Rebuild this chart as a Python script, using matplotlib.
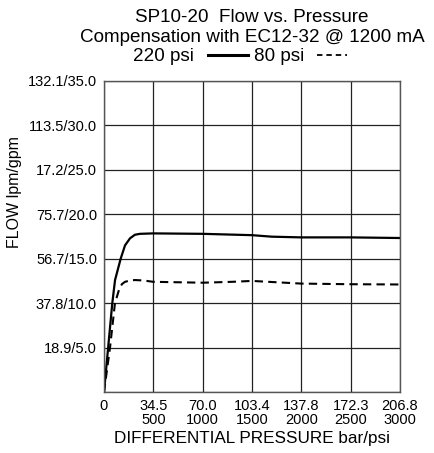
import matplotlib.pyplot as plt
from matplotlib.lines import Line2D

plt.rcParams["font.family"] = ["Liberation Sans", "DejaVu Sans"]

# Data (psi, gpm)
psi_220 = [0, 42, 84, 112, 169, 213, 264, 314, 365, 500, 1000, 1500, 1700, 2000, 2500, 3000]
gpm_220 = [0, 5.0, 10.0, 12.6, 15.0, 16.5, 17.3, 17.7, 17.8, 17.85, 17.8, 17.65, 17.48, 17.4, 17.4, 17.33]

psi_80 = [0, 61, 111, 152, 182, 213, 264, 314, 400, 500, 1000, 1300, 1500, 2000, 2500, 3000]
gpm_80 = [0, 5.0, 10.0, 11.5, 12.15, 12.4, 12.55, 12.6, 12.55, 12.4, 12.3, 12.4, 12.5, 12.2, 12.13, 12.1]

x_ticks = [0, 500, 1000, 1500, 2000, 2500, 3000]
x_labels = ["0", "34.5\n500", "70.0\n1000", "103.4\n1500", "137.8\n2000", "172.3\n2500", "206.8\n3000"]
y_ticks = [0, 5, 10, 15, 20, 25, 30, 35]
y_labels = ["", "18.9/5.0", "37.8/10.0", "56.7/15.0", "75.7/20.0", "17.2/25.0", "113.5/30.0", "132.1/35.0"]


fig = plt.figure(figsize=(4.34, 4.53), dpi=100)
ax = fig.add_axes([104 / 434, 61 / 453, 296 / 434, 311 / 453])

ax.plot(psi_220, gpm_220, color="black", lw=1.6, solid_capstyle="butt")
ax.plot(psi_80, gpm_80, color="black", lw=1.5, dashes=(4, 2.5))

ax.set_xlim(0, 3000)
ax.set_ylim(0, 35)
ax.set_xticks(x_ticks)
ax.set_xticklabels(x_labels, fontsize=10.5)
ax.set_yticks(y_ticks)
ax.set_yticklabels(y_labels, fontsize=10.5)
for lab in ax.get_xticklabels():
    lab.set_linespacing(1.0)
ax.tick_params(length=0, pad=5)
ax.grid(color="#222222", lw=0.9)
for s in ax.spines.values():
    s.set_color("#555555")
    s.set_linewidth(1.0)

ax.set_xlabel("DIFFERENTIAL PRESSURE bar/psi", fontsize=12.3, labelpad=3)
fig.text(15 / 434, 1 - 192 / 453, "FLOW lpm/gpm", rotation=90, fontsize=11.5,
         ha="center", va="center")

# Title block
fig.text(252 / 434, 1 - 22 / 453, "SP10-20  Flow vs. Pressure", fontsize=13.6,
         ha="center", va="baseline")
fig.text(252 / 434, 1 - 42 / 453, "Compensation with EC12-32 @ 1200 mA", fontsize=13.6,
         ha="center", va="baseline")
fig.text(133 / 434, 1 - 61 / 453, "220 psi", fontsize=13.6, ha="left", va="baseline")
fig.text(254 / 434, 1 - 61 / 453, "80 psi", fontsize=13.6, ha="left", va="baseline")
ly = 1 - 55 / 453
fig.add_artist(Line2D([208 / 434, 248 / 434], [ly, ly], color="black", lw=2.2))
fig.add_artist(Line2D([317 / 434, 347 / 434], [ly, ly], color="black", lw=1.3, dashes=(3, 2.2)))

plt.savefig("out.png", dpi=100)
plt.close()
